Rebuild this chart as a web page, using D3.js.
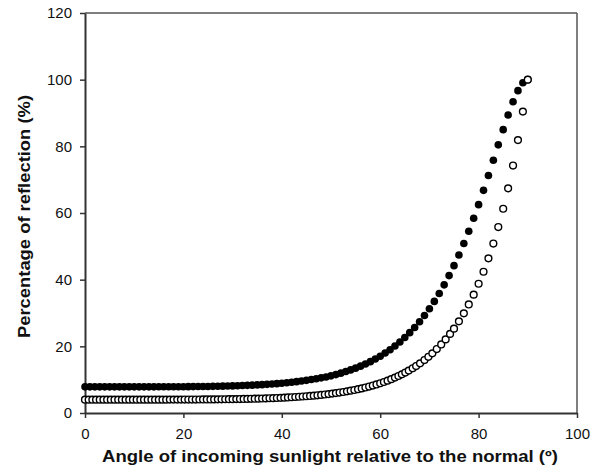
<!DOCTYPE html>
<html><head><meta charset="utf-8">
<script src="https://cdn.jsdelivr.net/npm/d3@7"></script>
<style>
body{margin:0;background:#fff}
svg{display:block}
text{font-family:Arial,"Liberation Sans",Helvetica,sans-serif;fill:#111}
</style></head>
<body><svg id="chart" width="598" height="468"></svg>
<script>
// Axis ticks
const xTicks = [0, 20, 40, 60, 80, 100];
const yTicks = [0, 20, 40, 60, 80, 100, 120];
const xTitle = "Angle of incoming sunlight relative to the normal (º)";
const yTitle = "Percentage of reflection (%)";

// Filled circles: angle (º) and reflection (%)
const filledAngle = [0,1,2,3,4,5,6,7,8,9,10,11,12,13,14,15,16,17,18,19,20,21,22,23,24,25,26,27,28,29,30,
  31,32,33,34,35,36,37,38,39,40,41,42,43,44,45,46,47,48,49,50,51,52,53,54,55,56,57,58,59,60,
  61,62,63,64,65,66,67,68,69,70,71,72,73,74,75,76,77,78,79,80,81,82,83,84,85,86,87,88,89,90];
const filledRefl = [7.84,7.84,7.84,7.84,7.84,7.84,7.84,7.84,7.84,7.84,7.84,7.85,7.85,7.85,7.85,7.86,7.86,7.87,7.88,7.88,7.89,
  7.90,7.92,7.93,7.95,7.97,8.00,8.02,8.06,8.09,8.13,
  8.18,8.23,8.29,8.36,8.43,8.51,8.60,8.70,8.81,8.94,
  9.08,9.24,9.41,9.60,9.80,10.03,10.28,10.54,10.82,11.14,
  11.52,11.96,12.43,12.93,13.46,14.05,14.70,15.41,16.19,17.04,
  17.98,18.99,20.11,21.32,22.65,24.10,25.67,27.39,29.26,31.28,
  33.48,35.86,38.44,41.22,44.21,47.42,50.86,54.52,58.41,62.51,
  66.80,71.26,75.83,80.45,85.01,89.38,93.36,96.71,99.08,100];

// Open circles: angle (º) and reflection (%)
const openAngle = [0,0.75,1.5,2.25,3,3.75,4.5,5.25,6,6.75,7.5,8.25,9,9.75,10.5,11.25,12,12.75,13.5,14.25,
  15,15.75,16.5,17.25,18,18.75,19.5,20.25,21,21.75,22.5,23.25,24,24.75,25.5,26.25,27,27.75,28.5,29.25,
  30,30.75,31.5,32.25,33,33.75,34.5,35.25,36,36.75,37.5,38.25,39,39.75,40.5,41.25,42,42.75,43.5,44.25,
  45,45.75,46.5,47.25,48,48.75,49.5,50.25,51,51.75,52.5,53.25,54,54.75,55.5,56.25,57,57.75,58.5,59.25,
  60,60.75,61.5,62.25,63,
  63.7,64.4,65.1,65.8,66.6,67.3,68.1,69.0,69.8,70.6,71.5,72.4,73.3,74.2,
  75,76,77,78,79,80,81,82,83,84,85,86,87,88,89,90];
const openRefl = [4.00,4.00,4.00,4.00,4.00,4.00,4.00,4.00,4.00,4.00,4.00,4.00,4.00,4.00,4.00,4.00,4.00,4.01,4.01,4.01,
  4.01,4.01,4.01,4.02,4.02,4.02,4.02,4.03,4.03,4.04,4.04,4.05,4.06,4.07,4.07,4.08,4.09,4.11,4.12,4.14,
  4.15,4.17,4.19,4.21,4.23,4.26,4.29,4.31,4.35,4.38,4.42,4.46,4.50,4.55,4.61,4.67,4.73,4.80,4.87,4.95,
  5.02,5.11,5.20,5.31,5.43,5.55,5.67,5.82,5.97,6.13,6.30,6.50,6.70,6.90,7.14,7.38,7.65,7.93,8.23,8.57,
  8.92,9.30,9.71,10.15,10.62,
  11.10,11.60,12.13,12.72,13.43,14.09,14.90,15.89,16.86,17.90,19.18,20.56,22.08,23.73,
  25.31,27.49,29.90,32.56,35.51,38.77,42.38,46.39,50.84,55.78,61.27,67.40,74.24,81.87,90.42,100];

const svg = d3.select("#chart");
const x = d3.scaleLinear().domain([0, 100]).range([85, 577]);
const y = d3.scaleLinear().domain([0, 120]).range([413, 13]);

// frame (top and right)
svg.append("line").attr("x1", x(0)).attr("x2", x(100)).attr("y1", y(120)).attr("y2", y(120))
  .attr("stroke", "#555").attr("stroke-width", 1.5);
svg.append("line").attr("x1", x(100)).attr("x2", x(100)).attr("y1", y(120)).attr("y2", y(0))
  .attr("stroke", "#555").attr("stroke-width", 1.5);

const gx = svg.append("g").attr("transform", `translate(0,${y(0)})`)
  .call(d3.axisBottom(x).tickValues(xTicks).tickFormat(d3.format("d")).tickSize(5).tickSizeOuter(0).tickPadding(10));
const gy = svg.append("g").attr("transform", `translate(${x(0)},0)`)
  .call(d3.axisLeft(y).tickValues(yTicks).tickFormat(d3.format("d")).tickSize(5).tickSizeOuter(0).tickPadding(8));
[gx, gy].forEach(g => {
  g.select(".domain").attr("stroke", "#333").attr("stroke-width", 2);
  g.selectAll(".tick line").attr("stroke", "#333").attr("stroke-width", 1.5);
  g.selectAll(".tick text").attr("font-size", 15).attr("fill", "#111")
    .attr("font-family", "Arial, 'Liberation Sans', sans-serif");
});

// titles
svg.append("text").attr("x", 330).attr("y", 461.5).attr("text-anchor", "middle")
  .attr("font-size", 16.5).attr("font-weight", "bold")
  .attr("textLength", 456).attr("lengthAdjust", "spacingAndGlyphs").text(xTitle);
svg.append("text").attr("transform", "translate(30,216.5) rotate(-90)").attr("text-anchor", "middle")
  .attr("font-size", 16.5).attr("font-weight", "bold")
  .attr("textLength", 243).attr("lengthAdjust", "spacingAndGlyphs").text(yTitle);

// data
const filled = filledAngle.map((a, i) => ({a, r: filledRefl[i]}));
const open = openAngle.map((a, i) => ({a, r: openRefl[i]}));

svg.append("g").selectAll("circle").data(filled).join("circle")
  .attr("cx", d => x(d.a)).attr("cy", d => y(d.r)).attr("r", 3.8)
  .attr("fill", "#000");
svg.append("g").selectAll("circle").data(open).join("circle")
  .attr("cx", d => x(d.a)).attr("cy", d => y(d.r)).attr("r", 3.4)
  .attr("fill", "#fff").attr("stroke", "#000").attr("stroke-width", 1.4);
</script></body></html>
